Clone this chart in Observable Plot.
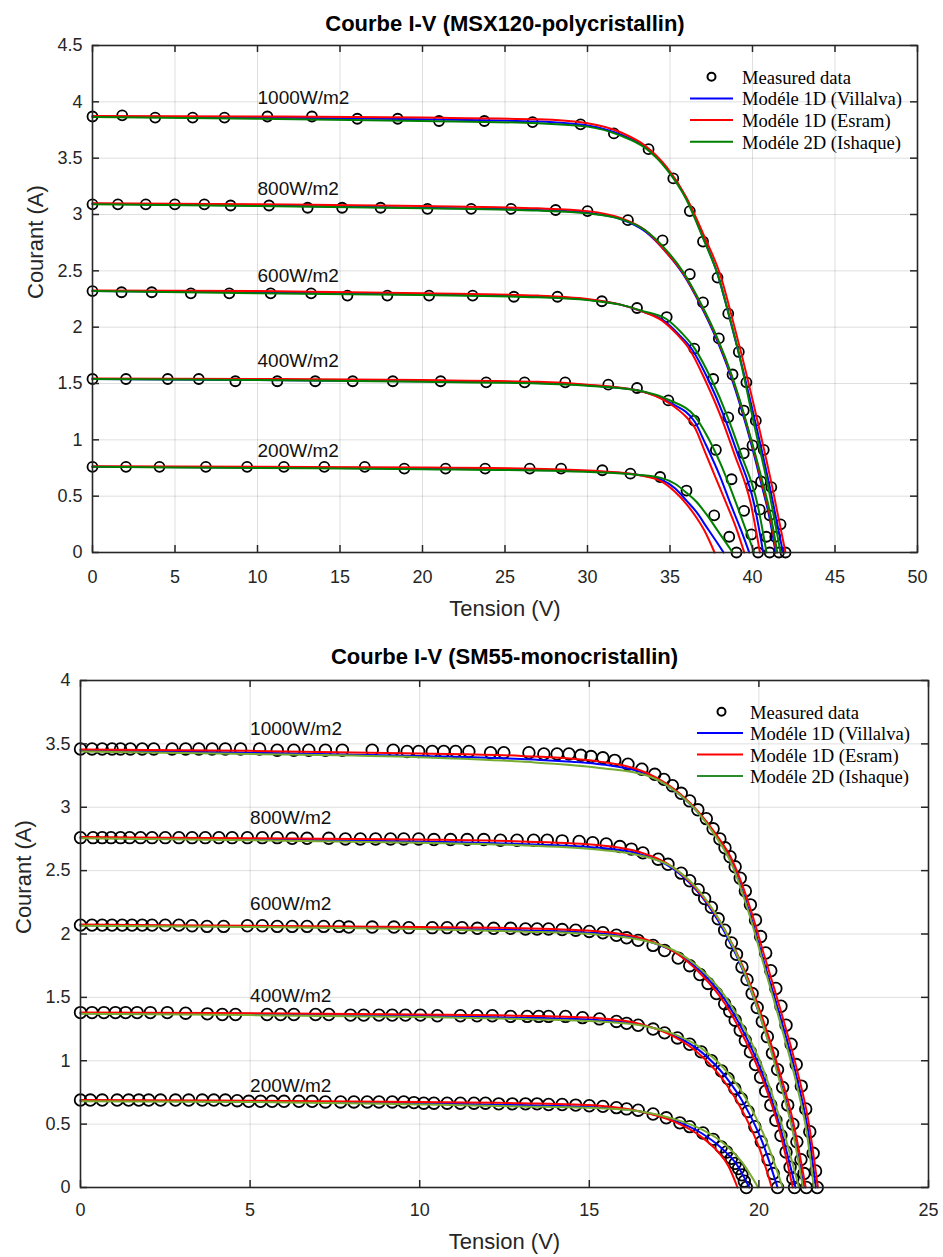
<!DOCTYPE html>
<html>
<head>
<meta charset="utf-8">
<script src="https://cdn.jsdelivr.net/npm/d3@7"></script>
<script src="https://cdn.jsdelivr.net/npm/@observablehq/plot@0.6"></script>
<style>
  html, body { margin: 0; padding: 0; background: #ffffff; }
  #wrap { position: relative; width: 943px; height: 1257px; overflow: hidden; background: #fff; }
  .panel { position: absolute; left: 0; }
  #legend { position: absolute; left: 0; top: 0; pointer-events: none; }
</style>
</head>
<body>
<div id="wrap">
  <div id="panelTop" class="panel" style="top:0px"></div>
  <div id="panelBottom" class="panel" style="top:630px"></div>
</div>
<script>
// ---------------- DATA ----------------
const irradiances = [1000, 800, 600, 400, 200];
const legendLabels = ["Measured data", "Modéle 1D (Villalva)", "Modéle 1D (Esram)", "Modéle 2D (Ishaque)"];

// ---- Top panel: MSX120 polycristallin ----
const polyTitle = "Courbe I-V (MSX120-polycristallin)";
const polyXTicks = [0, 5, 10, 15, 20, 25, 30, 35, 40, 45, 50];
const polyYTicks = [0, 0.5, 1, 1.5, 2, 2.5, 3, 3.5, 4, 4.5];
const polyLabels = [["1000W/m2", 10, 3.98], ["800W/m2", 10, 3.17], ["600W/m2", 10, 2.40], ["400W/m2", 10, 1.645], ["200W/m2", 10, 0.847]];

const polyMeas1000 = [[0,3.87],[1.8,3.88],[3.8,3.86],[6.07,3.86],[8.0,3.86],[10.6,3.87],[13.3,3.87],[16.05,3.85],[18.5,3.85],[21.0,3.83],[23.75,3.83],[26.67,3.82],[29.58,3.80],[31.6,3.72],[33.7,3.58],[35.2,3.32],[36.2,3.03],[37.0,2.76],[37.88,2.44],[38.53,2.12],[39.17,1.78],[39.63,1.51],[40.2,1.17],[40.68,0.91],[41.14,0.58],[41.7,0.25],[42.0,0]];
const polyMeas800 = [[0,3.09],[1.54,3.09],[3.23,3.09],[4.99,3.09],[6.78,3.09],[8.37,3.08],[10.7,3.08],[13.04,3.06],[15.13,3.06],[17.46,3.06],[20.3,3.05],[22.95,3.05],[25.37,3.05],[28.07,3.04],[30.0,3.03],[32.45,2.95],[34.55,2.77],[36.2,2.47],[37.0,2.22],[37.96,1.90],[38.79,1.58],[39.47,1.26],[40.0,0.95],[40.52,0.63],[41.04,0.33],[41.38,0.14],[41.6,0]];
const polyMeas600 = [[0,2.32],[1.76,2.31],[3.59,2.31],[5.96,2.30],[8.29,2.30],[10.8,2.30],[13.25,2.30],[15.45,2.28],[17.87,2.28],[20.4,2.28],[23.04,2.28],[25.54,2.27],[28.18,2.27],[30.87,2.23],[33.0,2.17],[34.8,2.09],[36.47,1.81],[37.62,1.54],[38.53,1.20],[39.47,0.88],[39.93,0.59],[40.44,0.38],[40.84,0.14],[41.04,0]];
const polyMeas400 = [[0,1.54],[2.03,1.54],[4.56,1.54],[6.44,1.54],[8.66,1.52],[11.2,1.52],[13.5,1.52],[15.77,1.52],[18.2,1.52],[21.1,1.52],[23.86,1.51],[26.19,1.51],[28.65,1.51],[31.26,1.49],[33.0,1.46],[34.9,1.35],[36.47,1.17],[37.78,0.91],[38.73,0.65],[39.49,0.37],[39.93,0.16],[40.34,0]];
const polyMeas200 = [[0,0.76],[2.03,0.76],[4.06,0.76],[6.87,0.76],[9.37,0.76],[11.6,0.76],[14.05,0.76],[16.5,0.76],[18.9,0.745],[21.4,0.745],[23.8,0.745],[26.5,0.745],[28.4,0.745],[30.9,0.73],[32.6,0.70],[34.4,0.67],[36.0,0.55],[37.68,0.33],[38.59,0.14],[39.03,0]];

const polyVillalva1000 = [[0,3.87],[10,3.86],[20,3.845],[27,3.825],[30,3.79],[32,3.71],[33.5,3.60],[34.8,3.41],[36.0,3.14],[37.0,2.80],[37.95,2.44],[38.55,2.12],[39.15,1.78],[40.15,1.17],[41.05,0.58],[41.85,0]];
const polyVillalva800 = [[0,3.095],[10,3.08],[20,3.06],[27,3.04],[30,3.015],[32,2.96],[33.5,2.85],[34.8,2.66],[35.8,2.47],[36.8,2.21],[37.8,1.90],[38.65,1.58],[39.35,1.26],[39.95,0.95],[40.5,0.63],[41.0,0.33],[41.4,0]];
const polyVillalva600 = [[0,2.32],[10,2.31],[20,2.29],[27,2.27],[30,2.245],[32,2.20],[33.3,2.14],[34.6,2.06],[35.5,1.94],[36.35,1.80],[37.3,1.54],[38.3,1.20],[39.1,0.875],[40.1,0.43],[40.65,0]];
const polyVillalva400 = [[0,1.54],[10,1.53],[20,1.52],[27,1.505],[30,1.485],[33,1.44],[35,1.33],[36.5,1.16],[37.1,0.98],[38.05,0.67],[38.7,0.42],[39.3,0.20],[39.8,0]];
const polyVillalva200 = [[0,0.76],[10,0.755],[20,0.745],[28,0.73],[31,0.715],[33,0.69],[34.5,0.645],[35.3,0.57],[36.0,0.46],[36.6,0.36],[37.2,0.23],[37.8,0.10],[38.25,0]];

const polyEsram1000 = [[0,3.875],[10,3.87],[20,3.86],[27,3.845],[30,3.81],[32,3.73],[33.5,3.61],[34.8,3.42],[36.0,3.15],[37.1,2.80],[38.1,2.44],[38.7,2.12],[39.3,1.78],[40.3,1.17],[41.2,0.58],[42.0,0]];
const polyEsram800 = [[0,3.10],[10,3.09],[20,3.075],[27,3.055],[30,3.03],[32,2.97],[33.5,2.86],[34.8,2.66],[35.8,2.48],[36.8,2.22],[37.85,1.90],[38.7,1.58],[39.4,1.26],[40.0,0.95],[40.55,0.63],[41.05,0.33],[41.45,0]];
const polyEsram600 = [[0,2.325],[10,2.32],[20,2.30],[27,2.28],[30,2.25],[32,2.20],[33.3,2.14],[34.5,2.06],[35.4,1.94],[36.2,1.80],[37.1,1.54],[38.1,1.20],[38.9,0.875],[39.9,0.43],[40.45,0]];
const polyEsram400 = [[0,1.545],[10,1.54],[20,1.53],[27,1.515],[30,1.49],[33,1.44],[35,1.32],[36.0,1.20],[36.5,1.11],[37.1,0.90],[37.75,0.67],[38.4,0.44],[39.0,0.22],[39.5,0]];
const polyEsram200 = [[0,0.765],[10,0.76],[20,0.755],[28,0.74],[31,0.72],[33,0.69],[34.5,0.63],[35.3,0.54],[36.0,0.43],[36.6,0.31],[37.1,0.19],[37.7,0]];

const polyIshaque1000 = [[0,3.865],[10,3.85],[20,3.83],[27,3.81],[30,3.78],[32,3.70],[33.5,3.59],[34.8,3.40],[36.0,3.13],[37.0,2.79],[37.95,2.44],[38.55,2.12],[39.15,1.78],[40.05,1.17],[40.95,0.58],[41.7,0]];
const polyIshaque800 = [[0,3.09],[10,3.075],[20,3.055],[27,3.035],[30,3.01],[32,2.96],[33.5,2.86],[34.8,2.68],[35.8,2.49],[36.8,2.23],[37.85,1.91],[38.7,1.59],[39.4,1.27],[40.0,0.96],[40.6,0.63],[41.1,0.33],[41.5,0]];
const polyIshaque600 = [[0,2.32],[10,2.30],[20,2.285],[27,2.265],[30,2.24],[32,2.20],[33.3,2.145],[34.8,2.07],[35.7,1.95],[36.5,1.81],[37.5,1.54],[38.5,1.20],[39.3,0.875],[40.3,0.43],[40.85,0]];
const polyIshaque400 = [[0,1.54],[10,1.53],[20,1.515],[27,1.50],[30,1.48],[33,1.44],[35,1.35],[36.5,1.21],[37.3,1.02],[38.4,0.67],[39.1,0.40],[39.6,0.20],[40.1,0]];
const polyIshaque200 = [[0,0.76],[10,0.75],[20,0.74],[28,0.725],[31,0.71],[33,0.69],[34.5,0.66],[35.3,0.61],[36.0,0.53],[36.6,0.45],[37.2,0.34],[38.0,0.17],[38.8,0]];

// ---- Bottom panel: SM55 monocristallin ----
const monoTitle = "Courbe I-V (SM55-monocristallin)";
const monoXTicks = [0, 5, 10, 15, 20, 25];
const monoYTicks = [0, 0.5, 1, 1.5, 2, 2.5, 3, 3.5, 4];
const monoLabels = [["1000W/m2", 5, 3.57], ["800W/m2", 5, 2.87], ["600W/m2", 5, 2.187], ["400W/m2", 5, 1.461], ["200W/m2", 5, 0.751]];

const monoMeas1000 = [[0,3.46],[0.34,3.46],[0.64,3.46],[0.93,3.46],[1.18,3.46],[1.47,3.46],[1.82,3.46],[2.16,3.46],[2.70,3.46],[3.10,3.46],[3.49,3.46],[3.88,3.46],[4.27,3.46],[4.72,3.46],[5.28,3.46],[5.80,3.45],[6.29,3.45],[6.73,3.45],[7.22,3.45],[7.72,3.45],[8.60,3.45],[9.22,3.45],[9.63,3.44],[9.97,3.44],[10.37,3.44],[10.71,3.44],[11.06,3.44],[11.45,3.44],[12.09,3.43],[12.48,3.43],[13.22,3.43],[13.66,3.42],[14.05,3.42],[14.4,3.42],[14.75,3.41],[15.05,3.40],[15.4,3.39],[15.75,3.37],[16.14,3.34],[16.55,3.30],[16.93,3.26],[17.2,3.22],[17.45,3.17],[17.71,3.11],[17.96,3.05],[18.2,2.98],[18.45,2.91],[18.65,2.83],[18.85,2.75],[19.0,2.68],[19.15,2.61],[19.3,2.53],[19.45,2.44],[19.6,2.34],[19.75,2.23],[19.9,2.11],[20.05,1.98],[20.2,1.85],[20.35,1.71],[20.5,1.57],[20.65,1.43],[20.8,1.28],[20.95,1.13],[21.1,0.97],[21.25,0.80],[21.38,0.62],[21.5,0.44],[21.6,0.27],[21.67,0.13],[21.72,0]];
const monoMeas800 = [[0,2.76],[0.37,2.76],[0.64,2.76],[0.9,2.76],[1.18,2.76],[1.45,2.76],[1.77,2.76],[2.11,2.76],[2.5,2.76],[2.9,2.76],[3.29,2.76],[3.68,2.76],[4.08,2.76],[4.47,2.76],[4.92,2.76],[5.36,2.76],[5.8,2.76],[6.24,2.755],[6.68,2.755],[7.32,2.755],[7.81,2.75],[8.25,2.75],[8.7,2.75],[9.14,2.75],[9.53,2.75],[9.97,2.75],[10.42,2.745],[10.91,2.745],[11.4,2.745],[11.89,2.745],[12.38,2.74],[12.87,2.74],[13.36,2.74],[13.76,2.74],[14.2,2.735],[14.7,2.73],[15.1,2.72],[15.5,2.71],[15.9,2.69],[16.24,2.67],[16.58,2.64],[17.03,2.59],[17.32,2.55],[17.71,2.48],[17.96,2.42],[18.21,2.35],[18.4,2.28],[18.6,2.21],[18.8,2.12],[18.99,2.03],[19.19,1.93],[19.34,1.84],[19.5,1.74],[19.65,1.64],[19.8,1.53],[19.95,1.42],[20.1,1.31],[20.25,1.19],[20.4,1.06],[20.55,0.93],[20.7,0.79],[20.85,0.65],[21.0,0.50],[21.12,0.36],[21.24,0.22],[21.33,0.11],[21.4,0]];
const monoMeas600 = [[0,2.07],[0.34,2.07],[0.64,2.07],[0.93,2.07],[1.23,2.07],[1.52,2.07],[1.82,2.07],[2.11,2.07],[2.5,2.07],[2.9,2.07],[3.29,2.065],[3.73,2.06],[4.22,2.06],[4.92,2.065],[5.36,2.065],[5.8,2.06],[6.24,2.06],[6.68,2.06],[7.17,2.06],[7.62,2.06],[7.91,2.055],[8.6,2.055],[9.24,2.055],[9.68,2.05],[10.37,2.05],[10.81,2.05],[11.25,2.05],[11.7,2.045],[12.18,2.045],[12.68,2.045],[13.12,2.04],[13.46,2.04],[13.8,2.04],[14.2,2.035],[14.6,2.03],[15.0,2.02],[15.4,2.01],[15.8,1.99],[16.1,1.97],[16.44,1.95],[16.88,1.91],[17.22,1.87],[17.62,1.81],[17.96,1.75],[18.26,1.68],[18.5,1.61],[18.75,1.53],[18.99,1.45],[19.14,1.39],[19.3,1.32],[19.45,1.24],[19.6,1.16],[19.75,1.07],[19.9,0.97],[20.05,0.87],[20.2,0.76],[20.35,0.65],[20.5,0.53],[20.65,0.41],[20.8,0.28],[20.92,0.16],[21.0,0.07],[21.05,0]];
const monoMeas400 = [[0,1.38],[0.34,1.38],[0.69,1.38],[1.03,1.38],[1.33,1.38],[1.67,1.38],[2.06,1.38],[2.56,1.38],[3.1,1.375],[3.74,1.37],[4.18,1.365],[4.57,1.365],[5.5,1.365],[5.9,1.365],[6.29,1.365],[6.93,1.365],[7.32,1.365],[7.96,1.36],[8.35,1.36],[8.8,1.36],[9.19,1.36],[9.58,1.36],[10.02,1.36],[10.52,1.355],[11.2,1.355],[11.69,1.355],[12.14,1.355],[12.68,1.35],[13.17,1.35],[13.51,1.35],[13.8,1.35],[14.3,1.35],[14.8,1.34],[15.3,1.33],[15.8,1.31],[16.1,1.295],[16.44,1.28],[16.88,1.25],[17.22,1.22],[17.6,1.18],[17.96,1.13],[18.3,1.07],[18.6,1.00],[18.9,0.92],[19.09,0.86],[19.29,0.78],[19.48,0.70],[19.68,0.60],[19.88,0.48],[20.07,0.36],[20.27,0.22],[20.42,0.11],[20.55,0]];
const monoMeas200 = [[0,0.69],[0.29,0.69],[0.64,0.69],[1.08,0.69],[1.42,0.69],[1.72,0.69],[2.01,0.69],[2.36,0.69],[2.8,0.69],[3.19,0.69],[3.59,0.69],[3.93,0.69],[4.27,0.69],[4.62,0.685],[4.96,0.68],[5.31,0.68],[5.65,0.68],[6.0,0.68],[6.44,0.68],[6.83,0.68],[7.22,0.675],[7.67,0.675],[8.06,0.675],[8.45,0.675],[8.8,0.675],[9.19,0.675],[9.53,0.675],[9.83,0.67],[10.12,0.665],[10.42,0.665],[10.81,0.665],[11.2,0.665],[11.6,0.665],[11.94,0.665],[12.33,0.66],[12.73,0.66],[13.12,0.66],[13.46,0.66],[13.8,0.655],[14.2,0.655],[14.6,0.65],[15.0,0.645],[15.4,0.64],[15.8,0.63],[16.1,0.62],[16.44,0.61],[16.88,0.58],[17.27,0.55],[17.67,0.51],[17.96,0.48],[18.35,0.43],[18.65,0.38],[18.89,0.32],[19.05,0.28],[19.19,0.23],[19.3,0.19],[19.4,0.15],[19.5,0.10],[19.57,0.05],[19.63,0]];

const monoVillalva1000 = [[0,3.45],[5,3.43],[10,3.405],[13,3.38],[15.3,3.34],[16.7,3.26],[17.7,3.09],[18.2,2.96],[18.7,2.79],[19.2,2.56],[19.7,2.19],[20.17,1.76],[20.66,1.32],[21.15,0.83],[21.45,0.45],[21.68,0]];
const monoVillalva800 = [[0,2.76],[5,2.745],[10,2.73],[13,2.71],[15.3,2.68],[16.5,2.63],[17.5,2.51],[18.3,2.30],[19.0,2.01],[19.6,1.67],[20.1,1.30],[20.6,0.87],[21.0,0.46],[21.33,0]];
const monoVillalva600 = [[0,2.07],[5,2.06],[10,2.045],[13,2.03],[15.3,2.005],[16.5,1.96],[17.5,1.86],[18.3,1.70],[19.0,1.48],[19.6,1.20],[20.1,0.90],[20.6,0.50],[21.08,0]];
const monoVillalva400 = [[0,1.375],[5,1.37],[10,1.355],[13,1.34],[15.3,1.32],[16.5,1.285],[17.5,1.20],[18.3,1.07],[19.0,0.88],[19.6,0.64],[20.1,0.36],[20.55,0]];
const monoVillalva200 = [[0,0.685],[5,0.68],[10,0.665],[13,0.65],[15.3,0.63],[16.5,0.60],[17.5,0.53],[18.3,0.43],[18.9,0.31],[19.35,0.18],[19.72,0]];

const monoEsram1000 = [[0,3.455],[5,3.445],[10,3.425],[13,3.405],[15.3,3.36],[16.7,3.27],[17.7,3.10],[18.2,2.97],[18.7,2.80],[19.2,2.59],[19.7,2.24],[20.17,1.82],[20.66,1.38],[21.15,0.90],[21.45,0.54],[21.74,0]];
const monoEsram800 = [[0,2.765],[5,2.755],[10,2.745],[13,2.73],[15.3,2.70],[16.5,2.645],[17.5,2.52],[18.3,2.31],[19.0,2.03],[19.6,1.70],[20.1,1.34],[20.6,0.92],[21.0,0.53],[21.38,0]];
const monoEsram600 = [[0,2.075],[5,2.065],[10,2.055],[13,2.045],[15.3,2.02],[16.5,1.97],[17.5,1.86],[18.3,1.68],[19.0,1.45],[19.6,1.16],[20.1,0.86],[20.6,0.46],[21.0,0]];
const monoEsram400 = [[0,1.38],[5,1.375],[10,1.365],[13,1.355],[15.3,1.335],[16.5,1.29],[17.5,1.19],[18.3,1.04],[19.0,0.83],[19.6,0.56],[20.0,0.32],[20.38,0]];
const monoEsram200 = [[0,0.69],[5,0.685],[10,0.675],[13,0.665],[15.3,0.645],[16.5,0.60],[17.5,0.52],[18.2,0.42],[18.8,0.28],[19.1,0.17],[19.37,0]];

const monoIshaque1000 = [[0,3.44],[5,3.42],[10,3.395],[13,3.36],[15.3,3.31],[16.7,3.25],[17.7,3.09],[18.2,2.96],[18.7,2.78],[19.2,2.55],[19.7,2.17],[20.17,1.73],[20.66,1.27],[21.15,0.77],[21.4,0.45],[21.62,0]];
const monoIshaque800 = [[0,2.755],[5,2.74],[10,2.72],[13,2.70],[15.3,2.665],[16.5,2.62],[17.5,2.52],[18.3,2.32],[19.0,2.03],[19.6,1.68],[20.1,1.30],[20.6,0.85],[21.0,0.44],[21.3,0]];
const monoIshaque600 = [[0,2.065],[5,2.055],[10,2.04],[13,2.02],[15.3,1.995],[16.5,1.955],[17.5,1.87],[18.3,1.72],[19.0,1.51],[19.6,1.24],[20.1,0.95],[20.6,0.56],[21.18,0]];
const monoIshaque400 = [[0,1.37],[5,1.36],[10,1.345],[13,1.33],[15.3,1.31],[16.5,1.28],[17.5,1.21],[18.3,1.10],[19.0,0.93],[19.6,0.71],[20.2,0.38],[20.7,0]];
const monoIshaque200 = [[0,0.68],[5,0.675],[10,0.655],[13,0.64],[15.3,0.625],[16.5,0.60],[17.5,0.54],[18.3,0.46],[19.0,0.34],[19.5,0.20],[19.98,0]];

// ---------------- BUILD ----------------
function toRows(byG) {
  return irradiances.flatMap(g => byG[g].map(([V, I]) => ({G: g, V, I})));
}
const SANS = '"Liberation Sans", Arial, Helvetica, sans-serif';
const SERIF = '"Liberation Serif", "Times New Roman", Times, serif';
const AX = "#262626";

function makePanel(cfg) {
  const plotH = cfg.height - cfg.mt - cfg.mb;
  const plotW = 943 - cfg.ml - cfg.mr;
  const tl = 7;
  const line = (data, color) => Plot.line(data, {x: "V", y: "I", z: "G", stroke: color, strokeWidth: 2, curve: "monotone-x"});
  return Plot.plot({
    width: 943,
    height: cfg.height,
    marginLeft: cfg.ml, marginRight: cfg.mr, marginTop: cfg.mt, marginBottom: cfg.mb,
    style: {fontFamily: SANS, fontSize: "18px", color: AX, background: "transparent", overflow: "visible"},
    x: {domain: cfg.xDomain},
    y: {domain: cfg.yDomain},
    marks: [
      Plot.ruleX(cfg.xTicks, {x: d => d, stroke: AX, strokeOpacity: 0.15, strokeWidth: 1}),
      Plot.ruleY(cfg.yTicks, {y: d => d, stroke: AX, strokeOpacity: 0.15, strokeWidth: 1}),
      Plot.dot(cfg.measured, {x: "V", y: "I", r: cfg.r, stroke: "#000", strokeWidth: 1.8, fill: "none"}),
      line(cfg.villalva, "#0000ff"),
      line(cfg.esram, "#ff0000"),
      line(cfg.ishaque, cfg.green),
      Plot.text(cfg.labels, {x: d => d[1], y: d => d[2], text: d => d[0], textAnchor: "start", lineAnchor: "bottom", fontSize: 19, fill: "#111", fontFamily: SANS}),
      Plot.ruleX(cfg.xTicks, {x: d => d, insetTop: plotH - tl, stroke: AX, strokeWidth: 1.5}),
      Plot.ruleX(cfg.xTicks, {x: d => d, insetBottom: plotH - tl, stroke: AX, strokeWidth: 1.5}),
      Plot.ruleY(cfg.yTicks, {y: d => d, insetRight: plotW - tl, stroke: AX, strokeWidth: 1.5}),
      Plot.ruleY(cfg.yTicks, {y: d => d, insetLeft: plotW - tl, stroke: AX, strokeWidth: 1.5}),
      Plot.frame({stroke: AX, strokeWidth: 1.6}),
      Plot.axisX({ticks: cfg.xTicks, tickSize: 0, tickPadding: cfg.xPad, tickFormat: d => String(d), fontSize: 18, label: null}),
      Plot.axisY({ticks: cfg.yTicks, tickSize: 0, tickPadding: 10, tickFormat: d => String(d), fontSize: 18, label: null}),
      Plot.text([cfg.title], {text: d => d, frameAnchor: "top", dy: cfg.titleDy, lineAnchor: "bottom", fontWeight: "bold", fontSize: 22, fill: "#000"}),
      Plot.text(["Tension (V)"], {text: d => d, frameAnchor: "bottom", dy: cfg.xLabelDy, lineAnchor: "bottom", fontSize: 22, fill: AX}),
      Plot.text(["Courant (A)"], {text: d => d, frameAnchor: "left", dx: -50, rotate: -90, lineAnchor: "bottom", fontSize: 22, fill: AX})
    ]
  });
}

const topChart = makePanel({
  height: 630, ml: 92, mr: 26, mt: 45, mb: 78,
  xDomain: [0, 50], yDomain: [0, 4.5], xTicks: polyXTicks, yTicks: polyYTicks,
  measured: toRows({1000: polyMeas1000, 800: polyMeas800, 600: polyMeas600, 400: polyMeas400, 200: polyMeas200}),
  villalva: toRows({1000: polyVillalva1000, 800: polyVillalva800, 600: polyVillalva600, 400: polyVillalva400, 200: polyVillalva200}),
  esram: toRows({1000: polyEsram1000, 800: polyEsram800, 600: polyEsram600, 400: polyEsram400, 200: polyEsram200}),
  ishaque: toRows({1000: polyIshaque1000, 800: polyIshaque800, 600: polyIshaque600, 400: polyIshaque400, 200: polyIshaque200}),
  labels: polyLabels, r: 5, green: "#008000", title: polyTitle, titleDy: -15, xLabelDy: 63, xPad: 18
});
document.getElementById("panelTop").appendChild(topChart);

const bottomChart = makePanel({
  height: 627, ml: 80, mr: 15, mt: 50, mb: 70,
  xDomain: [0, 25], yDomain: [0, 4], xTicks: monoXTicks, yTicks: monoYTicks,
  measured: toRows({1000: monoMeas1000, 800: monoMeas800, 600: monoMeas600, 400: monoMeas400, 200: monoMeas200}),
  villalva: toRows({1000: monoVillalva1000, 800: monoVillalva800, 600: monoVillalva600, 400: monoVillalva400, 200: monoVillalva200}),
  esram: toRows({1000: monoEsram1000, 800: monoEsram800, 600: monoEsram600, 400: monoEsram400, 200: monoEsram200}),
  ishaque: toRows({1000: monoIshaque1000, 800: monoIshaque800, 600: monoIshaque600, 400: monoIshaque400, 200: monoIshaque200}),
  labels: monoLabels, r: 5.8, green: "#77ac30", title: monoTitle, titleDy: -17, xLabelDy: 61, xPad: 16
});
document.getElementById("panelBottom").appendChild(bottomChart);

// ---------------- LEGENDS (overlay) ----------------
const leg = d3.select("#wrap").append("svg").attr("id", "legend").attr("width", 943).attr("height", 1257);
function drawLegend(o) {
  const colors = [null, "#0000ff", "#ff0000", o.green];
  legendLabels.forEach((lab, i) => {
    const y = o.y0 + i * o.dy;
    if (i === 0) {
      leg.append("circle").attr("cx", o.mx).attr("cy", y).attr("r", 4).attr("fill", "none").attr("stroke", "#000").attr("stroke-width", 2);
    } else {
      leg.append("line").attr("x1", o.lx1).attr("x2", o.lx2).attr("y1", y).attr("y2", y).attr("stroke", colors[i]).attr("stroke-width", 2);
    }
    leg.append("text").attr("x", o.tx).attr("y", y + 7).attr("font-family", SERIF).attr("font-size", 18.6).attr("fill", "#000").text(lab);
  });
}
drawLegend({mx: 711.5, lx1: 690, lx2: 733, tx: 742, y0: 76.7, dy: 21.7, green: "#008000"});
drawLegend({mx: 721.5, lx1: 697, lx2: 743, tx: 750, y0: 711.7, dy: 21.4, green: "#2a8c2a"});
</script>
</body>
</html>
